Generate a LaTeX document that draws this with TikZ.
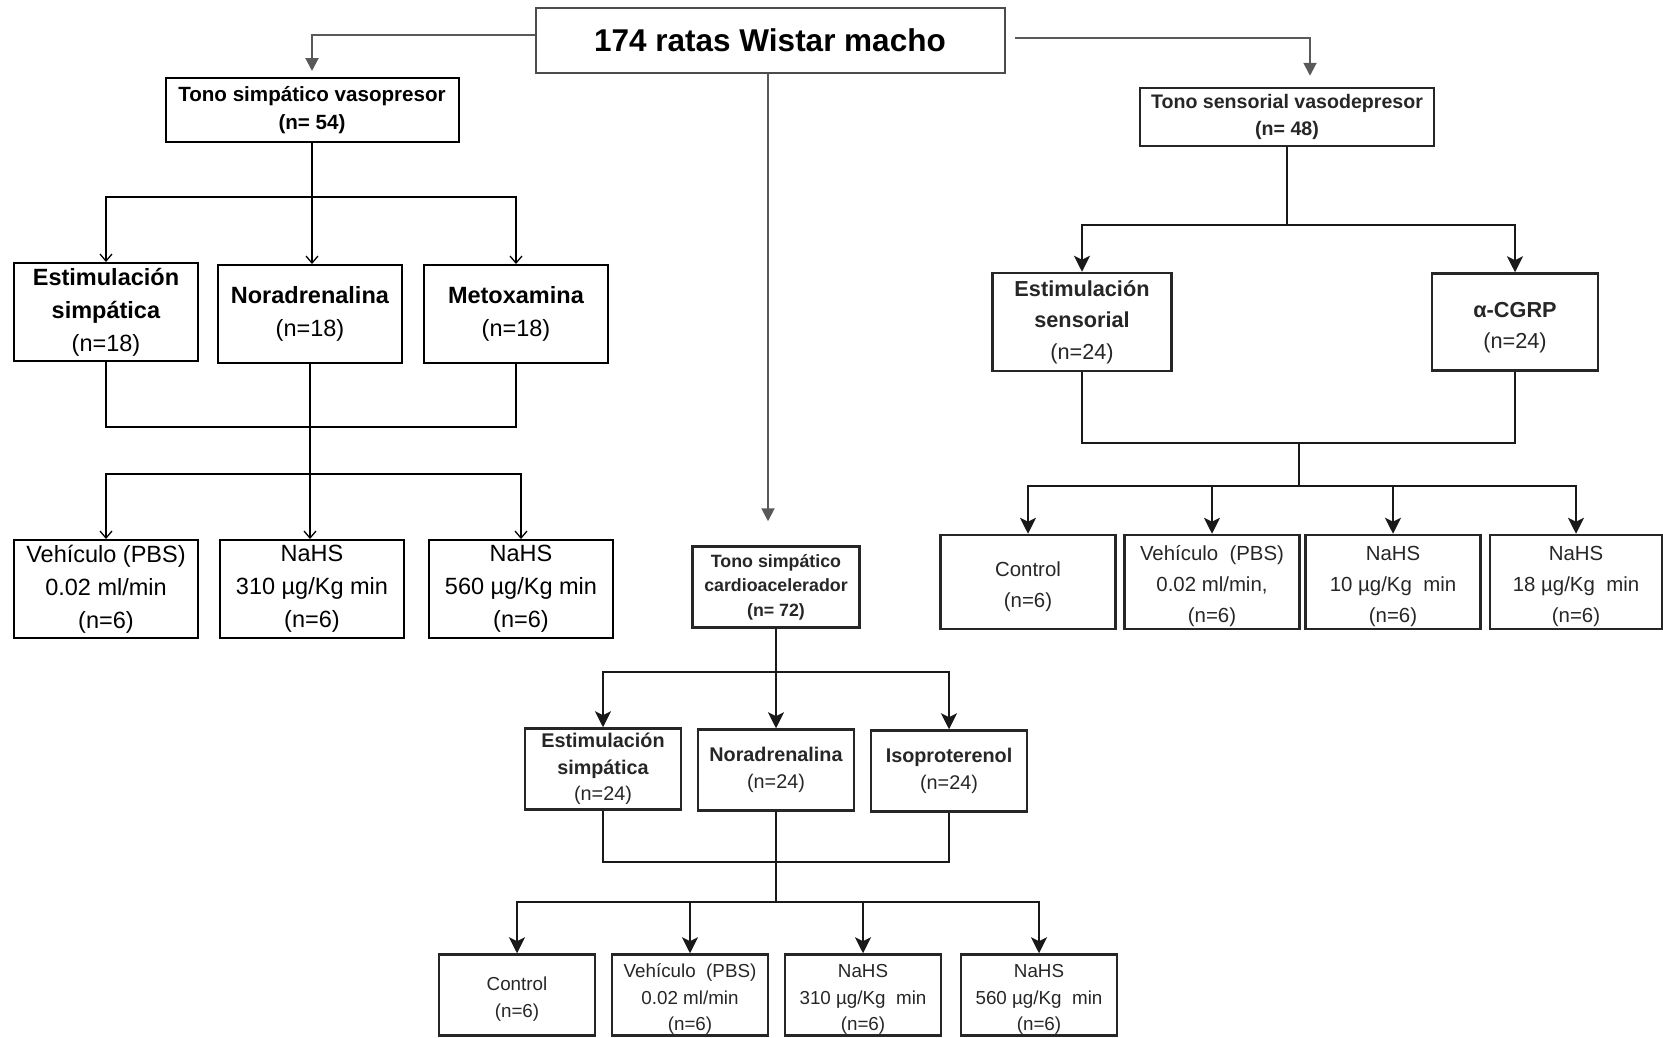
\documentclass[tikz,border=0pt]{standalone}
\usepackage{fontspec}
\setmainfont{Liberation Sans}
\usetikzlibrary{arrows.meta}

\begin{document}
\begin{tikzpicture}[x=1pt,y=-1pt,
    box/.style={draw, line width=2pt, align=center, inner sep=0pt},
    lbox/.style={box, font=\fontsize{23.5}{33}\selectfont, minimum width=184pt, minimum height=98pt},
    mbox/.style={box, draw=black!85, line width=2.5pt, text=black!85, minimum width=156pt, minimum height=81pt},
    rbox/.style={box, draw=black!85, line width=2.5pt, text=black!85, minimum width=175pt, minimum height=94pt},
    toparrow/.style={draw=black!65, line width=2pt, -{Triangle[length=13pt,width=13pt]}},
    lline/.style={line width=1.3pt},
    larrow/.style={lline, -{Straight Barb[length=7pt,width=12pt]}},
    mline/.style={line width=2.6pt, draw=black!90},
    marrow/.style={mline, -{Stealth[length=16pt,width=16pt,inset=4pt]}}
  ]
  \useasboundingbox (0,0) rectangle (1663,1037);

  % ================= TOP =================
  \node[box, draw=black!70, minimum width=469pt, minimum height=65pt,
        font=\fontsize{31.5}{36}\selectfont\bfseries] (top) at (770,40) {174 ratas Wistar macho};

  % ================= LEFT: vasopresor =================
  \node[box, minimum width=293pt, minimum height=64pt, font=\fontsize{20.6}{28}\selectfont\bfseries]
    (tsv) at (312,110) {Tono simpático vasopresor\\(n= 54)};

  \node[lbox] (es1)  at (106,312) {\textbf{Estimulación}\\\textbf{simpática}\\(n=18)};
  \node[lbox] (nor1) at (310,314) {\textbf{Noradrenalina}\\(n=18)};
  \node[lbox] (met1) at (516,314) {\textbf{Metoxamina}\\(n=18)};

  \node[lbox] (veh1)   at (106,589) {Vehículo (PBS)\\0.02 ml/min\\(n=6)};
  \node[lbox] (na310a) at (312,589) {NaHS\\310 µg/Kg min\\(n=6)};
  \node[lbox] (na560a) at (521,589) {NaHS\\560 µg/Kg min\\(n=6)};

  \draw[toparrow] ([yshift=5pt]top.west) -| ([yshift=6pt]tsv.north);

  \coordinate (b1) at (tsv.south |- 0,197);
  \draw[lline] (tsv.south) -- (b1);
  \draw[larrow] (b1) -| (es1.north);
  \draw[larrow] (b1) -- (b1 |- nor1.north);
  \draw[larrow] (b1) -| (met1.north);

  % merge and second split
  \coordinate (m1) at (nor1.south |- 0,427);
  \coordinate (b2) at (nor1.south |- 0,474);
  \draw[lline] (es1.south) |- (m1) -| (met1.south);
  \draw[lline] (nor1.south) -- (b2);
  \draw[larrow] (b2) -| (veh1.north);
  \draw[larrow] (b2) -- (b2 |- na310a.north);
  \draw[larrow] (b2) -| (na560a.north);

  % ================= MIDDLE: cardioacelerador =================
  \node[box, draw=black!85, line width=2.5pt, text=black!85, minimum width=167pt, minimum height=81pt,
        font=\fontsize{17.8}{24.4}\selectfont\bfseries]
    (tsc) at (776,587) {Tono simpático\\cardioacelerador\\(n= 72)};

  \node[mbox, font=\fontsize{19.8}{26.5}\selectfont] (es2)  at (603,769) {\textbf{Estimulación}\\\textbf{simpática}\\(n=24)};
  \node[mbox, font=\fontsize{19.8}{26.5}\selectfont] (nor2) at (776,770) {\textbf{Noradrenalina}\\(n=24)};
  \node[mbox, font=\fontsize{19.8}{26.5}\selectfont] (iso2) at (949,771) {\textbf{Isoproterenol}\\(n=24)};

  % bottom row: a strut lowers the text a little
  \node[mbox, font=\fontsize{18.8}{26.5}\selectfont] (ctl2)   at (517,995) {\rule{0pt}{22pt}Control\\(n=6)};
  \node[mbox, font=\fontsize{18.8}{26.5}\selectfont] (veh2)   at (690,995) {\rule{0pt}{22pt}Vehículo~ (PBS)\\0.02 ml/min\\(n=6)};
  \node[mbox, font=\fontsize{18.8}{26.5}\selectfont] (na310b) at (863,995) {\rule{0pt}{22pt}NaHS\\310 µg/Kg~ min\\(n=6)};
  \node[mbox, font=\fontsize{18.8}{26.5}\selectfont] (na560b) at (1039,995) {\rule{0pt}{22pt}NaHS\\560 µg/Kg~ min\\(n=6)};

  \draw[toparrow] (top.south -| 768,0) -- ([yshift=24pt]tsc.north -| 768,0);

  \coordinate (b3) at (tsc.south |- 0,672);
  \draw[mline] (tsc.south) -- (b3);
  \draw[marrow] (b3) -| (es2.north);
  \draw[marrow] (b3) -- (b3 |- nor2.north);
  \draw[marrow] (b3) -| (iso2.north);

  \coordinate (m2) at (nor2.south |- 0,862);
  \coordinate (b4) at (nor2.south |- 0,902);
  \draw[mline] (es2.south) |- (m2) -| (iso2.south);
  \draw[mline] (nor2.south) -- (b4);
  \draw[marrow] (b4) -| (ctl2.north);
  \draw[marrow] (b4) -| (veh2.north);
  \draw[marrow] (b4) -| (na310b.north);
  \draw[marrow] (b4) -| (na560b.north);

  % ================= RIGHT: vasodepresor =================
  \node[box, draw=black!85, line width=2.5pt, text=black!85, minimum width=294pt, minimum height=58pt,
        font=\fontsize{19.6}{27.6}\selectfont\bfseries]
    (tsd) at (1287,117) {Tono sensorial vasodepresor\\(n= 48)};

  \node[rbox, minimum width=179pt, minimum height=98pt, font=\fontsize{21.7}{31.5}\selectfont]
    (es3) at (1082,322) {\textbf{Estimulación}\\\textbf{sensorial}\\(n=24)};
  \node[rbox, minimum width=166pt, minimum height=97pt, font=\fontsize{21.7}{31.5}\selectfont]
    (cgrp) at (1515,322) {\rule{0pt}{26pt}\textbf{α-CGRP}\\(n=24)};

  \node[rbox, font=\fontsize{20.4}{31}\selectfont] (ctl3) at (1028,582) {\rule{0pt}{24pt}Control\\(n=6)};
  \node[rbox, font=\fontsize{20.4}{31}\selectfont] (veh3) at (1212,582) {\rule{0pt}{24pt}Vehículo~ (PBS)\\0.02 ml/min,\\(n=6)};
  \node[rbox, font=\fontsize{20.4}{31}\selectfont] (na10) at (1393,582) {\rule{0pt}{24pt}NaHS\\10 µg/Kg~ min\\(n=6)};
  \node[rbox, minimum width=172pt, font=\fontsize{20.4}{31}\selectfont] (na18) at (1576,582) {\rule{0pt}{24pt}NaHS\\18 µg/Kg~ min\\(n=6)};

  \draw[toparrow] ([xshift=9pt,yshift=2pt]top.east) -| ([yshift=11pt]tsd.north -| 1310,0);

  \coordinate (b5) at (tsd.south |- 0,225);
  \draw[mline] (tsd.south) -- (b5);
  \draw[marrow] (b5) -| (es3.north);
  \draw[marrow] (b5) -| (cgrp.north);

  \coordinate (m3) at (1299,443);
  \coordinate (b6) at (1299,486);
  \draw[mline] (es3.south) |- (m3) -| (cgrp.south);
  \draw[mline] (m3) -- (b6);
  \draw[marrow] (b6) -| (ctl3.north);
  \draw[marrow] (b6) -| (veh3.north);
  \draw[marrow] (b6) -| (na10.north);
  \draw[marrow] (b6) -| (na18.north);

\end{tikzpicture}
\end{document}
